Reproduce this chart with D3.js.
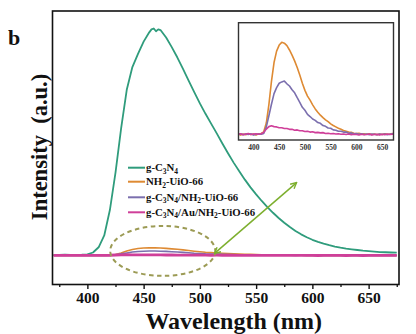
<!DOCTYPE html>
<html>
<head>
<meta charset="utf-8">
<script src="https://cdn.jsdelivr.net/npm/d3@7"></script>
<style>
  html, body { margin: 0; padding: 0; background: #fff; }
  svg { display: block; }
</style>
</head>
<body>
<svg id="chart" width="416" height="334"></svg>
<script>
// Photoluminescence spectra (arbitrary units)

// Wavelength grid (nm) for the g-C3N4 spectrum
const gWavelengths = [370, 375, 380, 385, 390, 395, 400, 405, 410, 415, 420, 425, 430, 435, 440, 445, 450, 455, 457, 459, 461, 463, 465, 470, 475, 480, 485, 490, 495, 500, 505, 510, 515, 520, 525, 530, 535, 540, 545, 550, 555, 560, 565, 570, 575, 580, 585, 590, 595, 600, 605, 610, 615, 620, 625, 630, 635, 640, 645, 650, 655, 660, 665, 670, 675];
const gC3N4 = [2, 2, 3, 2, 2, 3, 5, 13, 36, 88, 200, 365, 560, 730, 830, 888, 942, 983, 996, 1000, 988, 996, 993, 960, 918, 872, 822, 770, 720, 670, 624, 581, 538, 493, 450, 409, 371, 334, 300, 269, 240, 213, 188, 165, 144, 125, 108, 93, 80, 69, 60, 52, 45, 39, 34, 30, 27, 24, 21, 19, 17, 15, 14, 13, 12];

// Shared wavelength grid (nm) for the three weaker spectra
const wavelengths = [370, 375, 380, 385, 390, 395, 400, 405, 410, 415, 420, 425, 430, 435, 440, 445, 450, 455, 460, 465, 470, 475, 480, 485, 490, 495, 500, 505, 510, 515, 520, 525, 530, 535, 540, 545, 550, 555, 560, 565, 570, 575, 580, 585, 590, 595, 600, 605, 610, 615, 620, 625, 630, 635, 640, 645, 650, 655, 660, 665, 670, 675];
const nh2UiO66 = [0.3, -0.2, 0.2, -0.1, 0.3, 0.0, 0.2, -0.2, 0.3, 0.4, 1.0, 4.2, 11.0, 19.5, 26.4, 30.6, 32.8, 33.8, 33.5, 32.6, 31.0, 29.1, 27.0, 24.6, 21.8, 18.8, 16.2, 14.1, 12.6, 10.9, 9.4, 8.2, 7.1, 6.2, 5.4, 4.7, 3.9, 3.3, 2.8, 2.3, 1.9, 1.5, 1.2, 0.9, 0.8, 0.5, 0.4, 0.5, 0.2, 0.3, 0.1, 0.3, 0.0, 0.2, -0.1, 0.2, 0.0, 0.3, 0.1, 0.2, 0.4, 0.3];
const gC3N4NH2UiO66 = [0.0, 0.3, -0.1, 0.2, 0.0, 0.3, -0.2, 0.1, 0.2, 0.1, 0.4, 2.8, 6.9, 11.1, 15.0, 17.2, 18.8, 19.3, 19.6, 18.6, 17.8, 16.4, 15.3, 13.5, 11.8, 10.0, 8.9, 7.4, 6.6, 5.7, 5.2, 4.4, 4.1, 3.3, 3.0, 2.4, 2.3, 1.7, 1.6, 1.2, 1.2, 0.9, 0.9, 0.5, 0.6, 0.3, 0.4, 0.1, 0.3, 0.0, 0.2, -0.1, 0.2, 0.1, -0.1, 0.2, 0.0, 0.2, -0.1, 0.1, 0.3, 0.1];
const gC3N4AuNH2UiO66 = [0.1, 0.3, -0.1, 0.2, 0.4, 0.0, 0.2, 0.3, 0.1, 0.3, 0.8, 2.0, 2.9, 3.2, 2.9, 2.8, 2.5, 2.5, 2.2, 2.2, 1.9, 1.9, 1.6, 1.7, 1.4, 1.4, 1.1, 1.2, 0.9, 1.0, 0.7, 0.8, 0.6, 0.7, 0.4, 0.5, 0.3, 0.4, 0.2, 0.3, 0.1, 0.2, 0.0, 0.2, -0.1, 0.1, 0.0, -0.2, 0.1, -0.1, 0.0, 0.2, -0.2, 0.0, 0.1, -0.2, 0.1, -0.1, 0.2, 0.0, 0.1, 0.2];

const seriesNames = ["g-C3N4", "NH2-UiO-66", "g-C3N4/NH2-UiO-66", "g-C3N4/Au/NH2-UiO-66"];
const seriesColors = ["#2f9c7c", "#de8a33", "#7b6fae", "#cf3f99"];

const xTicks = [400, 450, 500, 550, 600, 650];
const xMinorTicks = [375, 425, 475, 525, 575, 625, 675];

const series = [
  { name: seriesNames[0], color: seriesColors[0], xs: gWavelengths, ys: gC3N4 },
  { name: seriesNames[1], color: seriesColors[1], xs: wavelengths, ys: nh2UiO66 },
  { name: seriesNames[2], color: seriesColors[2], xs: wavelengths, ys: gC3N4NH2UiO66 },
  { name: seriesNames[3], color: seriesColors[3], xs: wavelengths, ys: gC3N4AuNH2UiO66 }
];

const serif = "'Liberation Serif', 'Times New Roman', Times, serif";
const svg = d3.select("#chart");
const defs = svg.append("defs");

// ---------- main panel ----------
const frame = { left: 52.5, right: 399, top: 11, bottom: 284.5 };
const x = d3.scaleLinear().domain([369, 677]).range([frame.left, frame.right]);
const y = d3.scaleLinear().domain([-128, 1077]).range([frame.bottom, frame.top]);

defs.append("clipPath").attr("id", "mainClip")
  .append("rect").attr("x", frame.left).attr("y", frame.top)
  .attr("width", frame.right - frame.left).attr("height", frame.bottom - frame.top);

const mainLine = d3.line().x(d => x(d[0])).y(d => y(d[1]));
const plot = svg.append("g").attr("clip-path", "url(#mainClip)");

series.forEach((s, i) => {
  plot.append("path")
    .datum(s.xs.map((w, k) => [w, s.ys[k]]))
    .attr("fill", "none")
    .attr("stroke", s.color)
    .attr("stroke-width", i === 3 ? 2.8 : (i === 0 ? 1.8 : 1.6))
    .attr("stroke-linejoin", "round")
    .attr("d", mainLine);
});

// dashed ellipse around the weak emission bands
plot.append("ellipse")
  .attr("cx", x(467)).attr("cy", y(20))
  .attr("rx", x(467 + 46.7) - x(467))
  .attr("ry", y(0) - y(110))
  .attr("fill", "none")
  .attr("stroke", "#9c9b55")
  .attr("stroke-width", 2)
  .attr("stroke-dasharray", "4.5,3.5");

// double-headed pointer to the inset
defs.append("marker").attr("id", "arrowHead")
  .attr("viewBox", "0 0 10 10").attr("refX", 9).attr("refY", 5)
  .attr("markerWidth", 5).attr("markerHeight", 5)
  .attr("orient", "auto-start-reverse")
  .append("path").attr("d", "M1,1 L9,5 L1,9").attr("fill", "none")
  .attr("stroke", "#7daf2e").attr("stroke-width", 1.8);

svg.append("line")
  .attr("x1", x(513)).attr("y1", y(9))
  .attr("x2", x(586)).attr("y2", y(321))
  .attr("stroke", "#7daf2e").attr("stroke-width", 1.5)
  .attr("marker-start", "url(#arrowHead)")
  .attr("marker-end", "url(#arrowHead)");

// frame
svg.append("rect")
  .attr("x", frame.left).attr("y", frame.top)
  .attr("width", frame.right - frame.left).attr("height", frame.bottom - frame.top)
  .attr("fill", "none").attr("stroke", "#111").attr("stroke-width", 1.6);

// bottom axis
const xAxis = d3.axisBottom(x).tickValues(xTicks).tickSize(4.5).tickPadding(3).tickFormat(d3.format("d"));
const gx = svg.append("g").attr("transform", `translate(0,${frame.bottom})`).call(xAxis);
gx.select(".domain").remove();
gx.selectAll(".tick line").attr("stroke", "#111").attr("stroke-width", 1.4);
gx.selectAll(".tick text")
  .attr("font-family", serif).attr("font-weight", "bold")
  .attr("font-size", 15.5).attr("fill", "#111");

const xMinor = d3.axisBottom(x).tickValues(xMinorTicks).tickSize(2.5).tickFormat("");
const gxm = svg.append("g").attr("transform", `translate(0,${frame.bottom})`).call(xMinor);
gxm.select(".domain").remove();
gxm.selectAll(".tick line").attr("stroke", "#111").attr("stroke-width", 1.3);
gxm.selectAll(".tick text").remove();

// axis titles
svg.append("text")
  .attr("x", (frame.left + frame.right) / 2 + 8).attr("y", 329)
  .attr("text-anchor", "middle")
  .attr("font-family", serif).attr("font-weight", "bold").attr("font-size", 24)
  .attr("fill", "#111")
  .text("Wavelength (nm)");

svg.append("text")
  .attr("transform", "translate(46.5,147) rotate(-90)")
  .attr("text-anchor", "middle")
  .attr("font-family", serif).attr("font-weight", "bold").attr("font-size", 22.5)
  .attr("fill", "#111")
  .style("white-space", "pre")
  .text("Intensity  (a.u.)");

// panel letter
svg.append("text")
  .attr("x", 8).attr("y", 45)
  .attr("font-family", serif).attr("font-weight", "bold").attr("font-size", 22)
  .attr("fill", "#111")
  .text("b");

// ---------- legend ----------
const legendRows = [167.7, 181.7, 197.3, 212.3];
// [text, isSubscript]
const legendParts = [
  [["g-C", 0], ["3", 1], ["N", 0], ["4", 1]],
  [["NH", 0], ["2", 1], ["-UiO-66", 0]],
  [["g-C", 0], ["3", 1], ["N", 0], ["4", 1], ["/NH", 0], ["2", 1], ["-UiO-66", 0]],
  [["g-C", 0], ["3", 1], ["N", 0], ["4", 1], ["/Au/NH", 0], ["2", 1], ["-UiO-66", 0]]
];
const legend = svg.append("g");
series.forEach((s, i) => {
  const ly = legendRows[i];
  legend.append("line")
    .attr("x1", 128).attr("x2", 145).attr("y1", ly).attr("y2", ly)
    .attr("stroke", s.color).attr("stroke-width", 2);
  const t = legend.append("text")
    .attr("x", 146).attr("y", ly + 3.6)
    .attr("font-family", serif).attr("font-weight", "bold").attr("font-size", 10.8)
    .attr("fill", "#111");
  let lowered = false;
  legendParts[i].forEach(([str, sub]) => {
    const dy = sub ? (lowered ? 0 : 2.5) : (lowered ? -2.5 : 0);
    lowered = !!sub;
    t.append("tspan")
      .attr("font-size", sub ? 7.5 : 10.8)
      .attr("dy", dy)
      .text(str);
  });
});

// ---------- inset (weak spectra enlarged) ----------
const inset = { left: 238.5, right: 393.5, top: 22.7, bottom: 140 };
const xi = d3.scaleLinear().domain([371, 672]).range([inset.left, inset.right]);
const yi = d3.scaleLinear().domain([-2, 41]).range([inset.bottom, inset.top]);

svg.append("rect")
  .attr("x", inset.left).attr("y", inset.top)
  .attr("width", inset.right - inset.left).attr("height", inset.bottom - inset.top)
  .attr("fill", "#fff");

defs.append("clipPath").attr("id", "insetClip")
  .append("rect").attr("x", inset.left).attr("y", inset.top)
  .attr("width", inset.right - inset.left).attr("height", inset.bottom - inset.top);

const insetLine = d3.line().x(d => xi(d[0])).y(d => yi(d[1]));
const ip = svg.append("g").attr("clip-path", "url(#insetClip)");
[1, 2, 3].forEach(i => {
  const s = series[i];
  ip.append("path")
    .datum(s.xs.map((w, k) => [w, s.ys[k]]))
    .attr("fill", "none")
    .attr("stroke", s.color)
    .attr("stroke-width", 1.6)
    .attr("stroke-linejoin", "round")
    .attr("d", insetLine);
});

svg.append("rect")
  .attr("x", inset.left).attr("y", inset.top)
  .attr("width", inset.right - inset.left).attr("height", inset.bottom - inset.top)
  .attr("fill", "none").attr("stroke", "#333").attr("stroke-width", 1.4);

const xiAxis = d3.axisBottom(xi).tickValues(xTicks).tickSize(0).tickPadding(5).tickFormat(d3.format("d"));
const gxi = svg.append("g").attr("transform", `translate(0,${inset.bottom})`).call(xiAxis);
gxi.select(".domain").remove();
gxi.selectAll(".tick text")
  .attr("font-family", serif).attr("font-weight", "bold")
  .attr("font-size", 7.5).attr("fill", "#333");
</script>
</body>
</html>
